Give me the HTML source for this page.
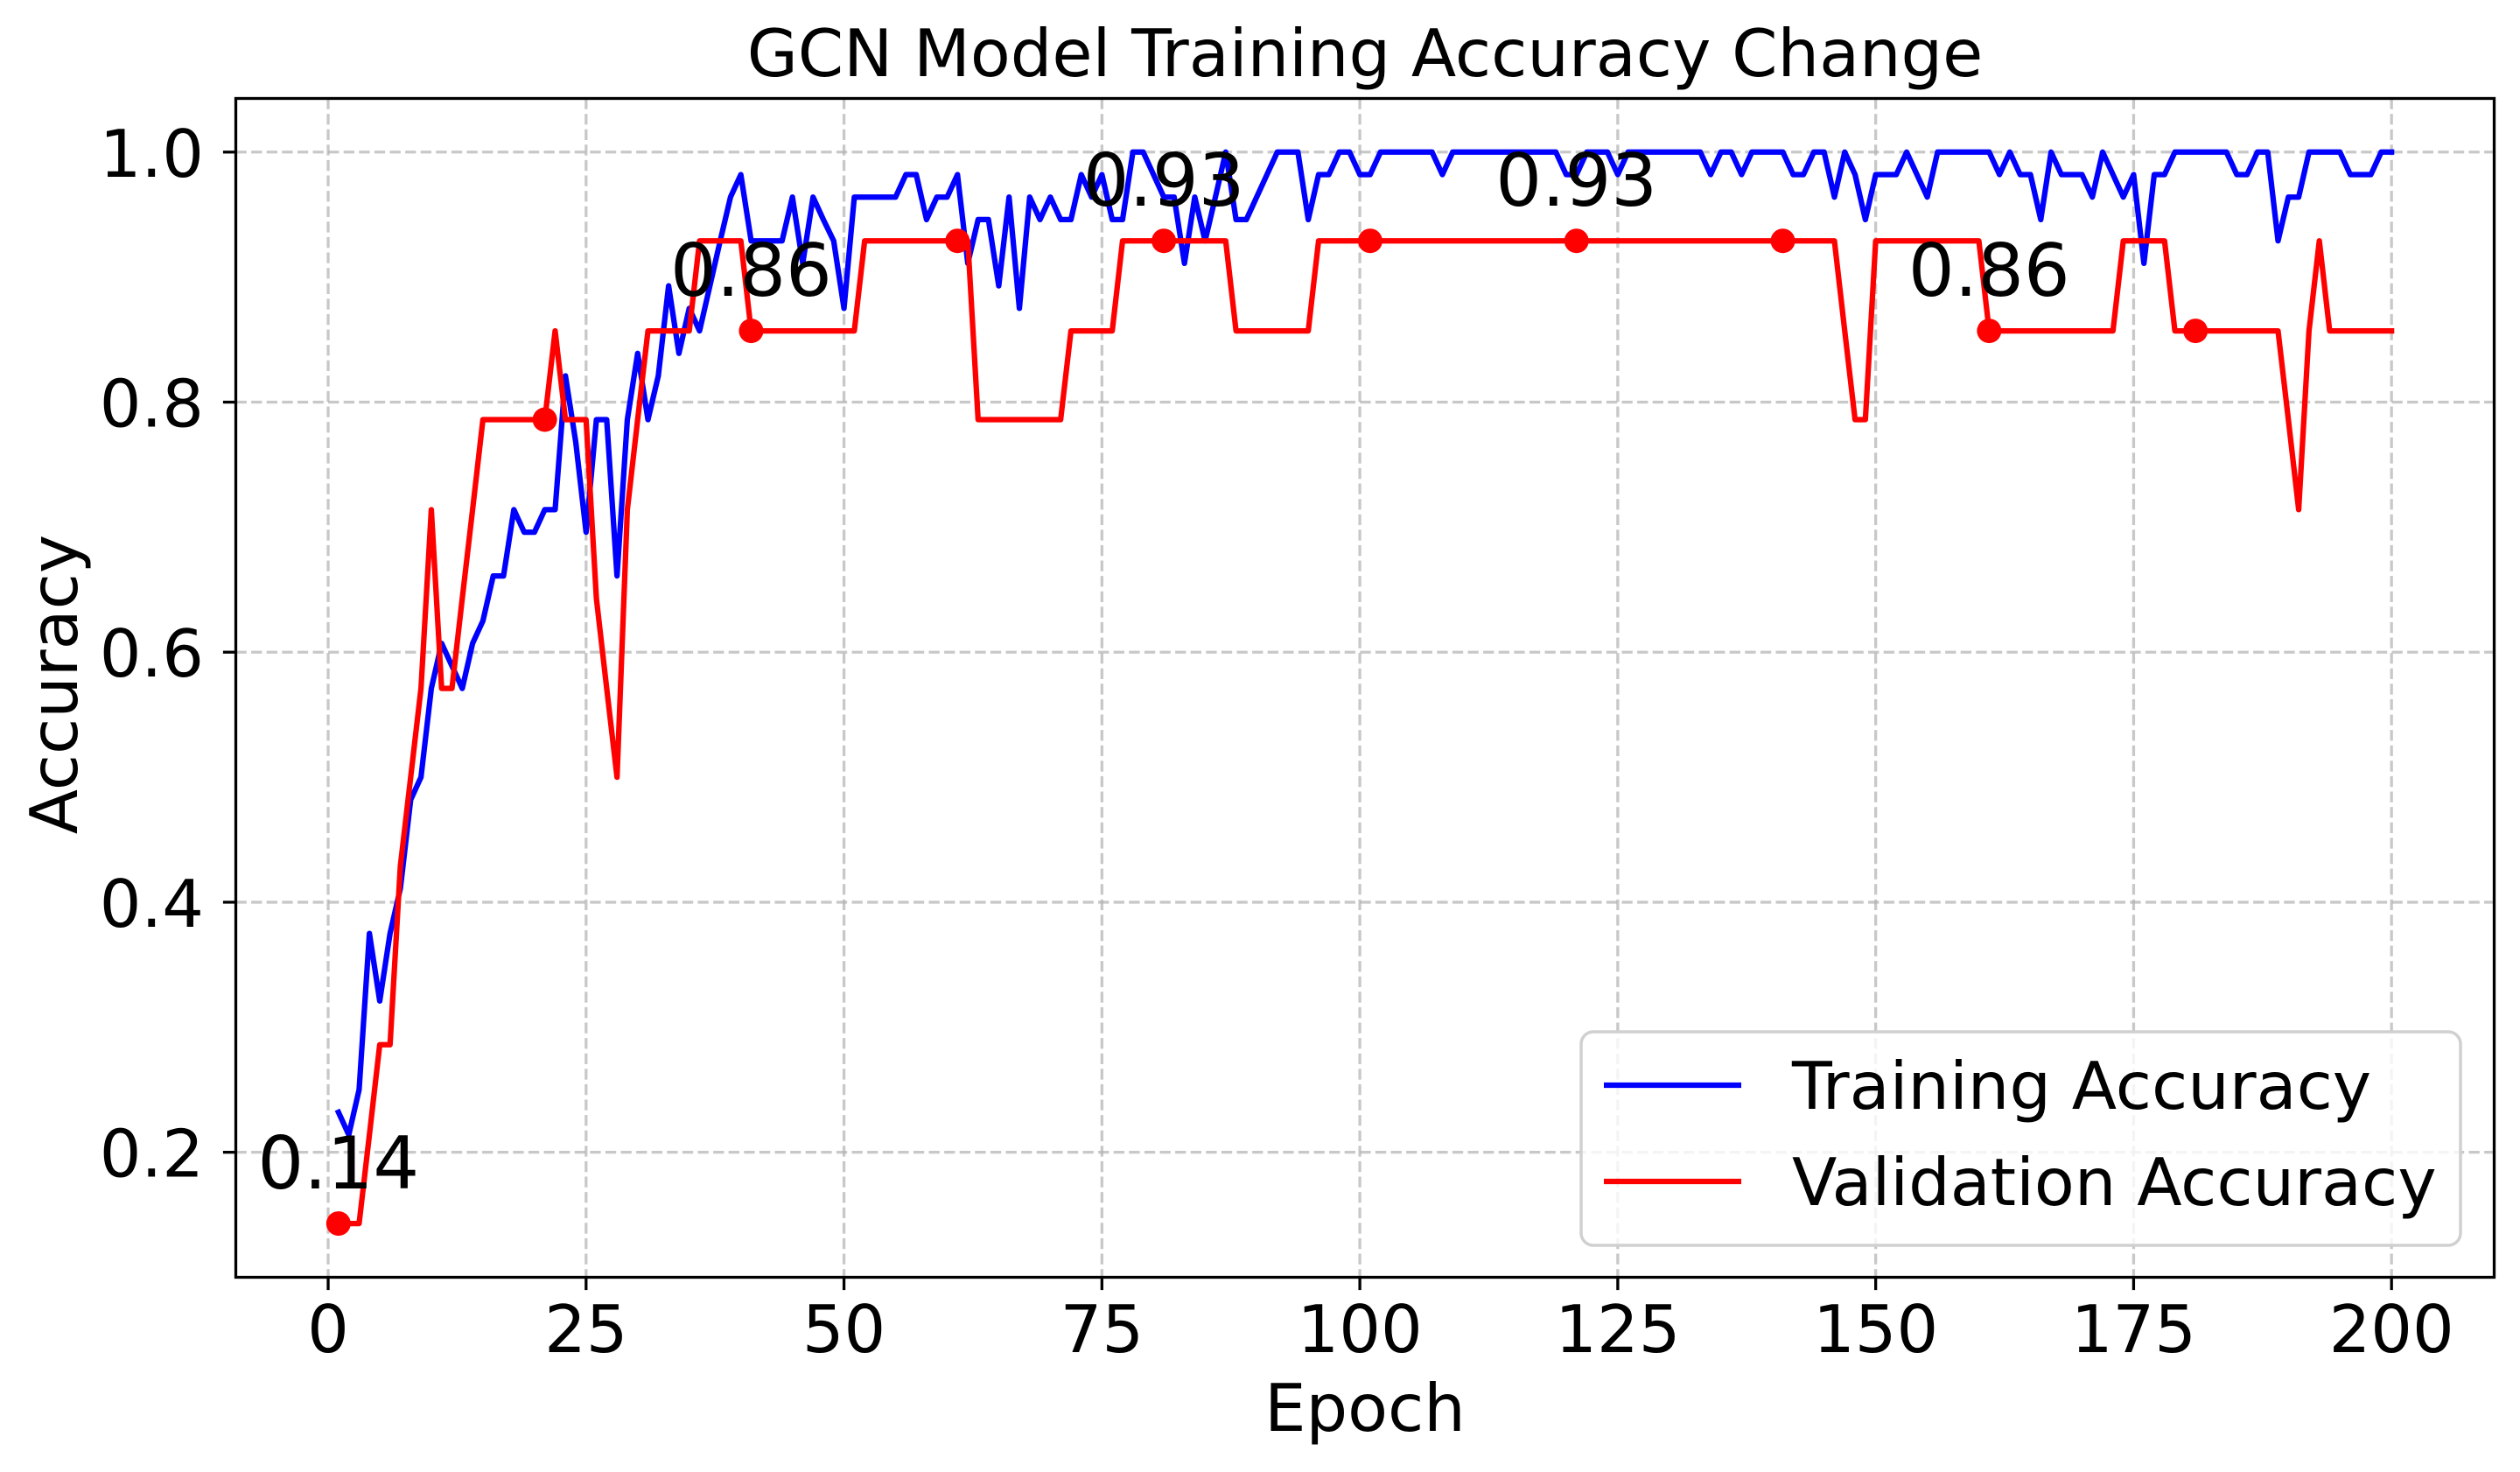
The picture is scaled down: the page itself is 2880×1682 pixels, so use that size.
<!DOCTYPE html>
<html><head><meta charset="utf-8"><style>
html,body{margin:0;padding:0;background:#fff;}
svg{display:block;font-family:"DejaVu Sans","Liberation Sans",sans-serif;}
</style></head><body>
<svg id="chart" width="2880" height="1682" viewBox="0 0 2880 1682" xmlns="http://www.w3.org/2000/svg">
<rect width="2880" height="1682" fill="#fff"/>
<g id="grid"></g>
<g id="series"></g>
<g id="axes"></g>
<text x="1560" y="87" font-size="75" text-anchor="middle">GCN Model Training Accuracy Change</text>
<text x="1560" y="1635" font-size="75" text-anchor="middle">Epoch</text>
<text x="0" y="0" font-size="75" text-anchor="middle" transform="translate(88,782) rotate(-90)">Accuracy</text>
<g>
<rect x="1807" y="1179" width="1005" height="244" rx="14" fill="#fff" fill-opacity="0.8" stroke="#d0d0d0" stroke-width="3.5"/>
<line x1="1833" y1="1240" x2="1990" y2="1240" stroke="#0000ff" stroke-width="6.25"/>
<text x="2048" y="1267" font-size="75">Training Accuracy</text>
<line x1="1833" y1="1350" x2="1990" y2="1350" stroke="#ff0000" stroke-width="6.25"/>
<text x="2048" y="1377" font-size="75">Validation Accuracy</text>
</g>
</svg>
<script>
const trainAcc = [
.232,.214,.25,.375,.321,.375,.411,.482,.5,.571,
.607,.589,.571,.607,.625,.661,.661,.714,.696,.696,
.714,.714,.821,.768,.696,.786,.786,.661,.786,.839,
.786,.821,.893,.839,.875,.857,.893,.929,.964,.982,
.929,.929,.929,.929,.964,.911,.964,.946,.929,.875,
.964,.964,.964,.964,.964,.982,.982,.946,.964,.964,
.982,.911,.946,.946,.893,.964,.875,.964,.946,.964,
.946,.946,.982,.964,.982,.946,.946,1,1,.982,
.964,.964,.911,.964,.929,.964,1,.946,.946,.964,
.982,1,1,1,.946,.982,.982,1,1,.982,
.982,1,1,1,1,1,1,.982,1,1,
1,1,1,1,1,1,1,1,1,.982,
.982,1,1,1,.982,1,1,1,1,1,
1,1,1,.982,1,1,.982,1,1,1,
1,.982,.982,1,1,.964,1,.982,.946,.982,
.982,.982,1,.982,.964,1,1,1,1,1,
1,.982,1,.982,.982,.946,1,.982,.982,.982,
.964,1,.982,.964,.982,.911,.982,.982,1,1,
1,1,1,1,.982,.982,1,1,.929,.964,
.964,1,1,1,1,.982,.982,.982,1,1];
const valAcc = [
.143,.143,.143,.214,.286,.286,.429,.5,.571,.714,
.571,.571,.643,.714,.786,.786,.786,.786,.786,.786,
.786,.857,.786,.786,.786,.643,.571,.5,.714,.786,
.857,.857,.857,.857,.857,.929,.929,.929,.929,.929,
.857,.857,.857,.857,.857,.857,.857,.857,.857,.857,
.857,.929,.929,.929,.929,.929,.929,.929,.929,.929,
.929,.929,.786,.786,.786,.786,.786,.786,.786,.786,
.786,.857,.857,.857,.857,.857,.929,.929,.929,.929,
.929,.929,.929,.929,.929,.929,.929,.857,.857,.857,
.857,.857,.857,.857,.857,.929,.929,.929,.929,.929,
.929,.929,.929,.929,.929,.929,.929,.929,.929,.929,
.929,.929,.929,.929,.929,.929,.929,.929,.929,.929,
.929,.929,.929,.929,.929,.929,.929,.929,.929,.929,
.929,.929,.929,.929,.929,.929,.929,.929,.929,.929,
.929,.929,.929,.929,.929,.929,.857,.786,.786,.929,
.929,.929,.929,.929,.929,.929,.929,.929,.929,.929,
.857,.857,.857,.857,.857,.857,.857,.857,.857,.857,
.857,.857,.857,.929,.929,.929,.929,.929,.857,.857,
.857,.857,.857,.857,.857,.857,.857,.857,.857,.786,
.714,.857,.929,.857,.857,.857,.857,.857,.857,.857];
const xTicks = [0,25,50,75,100,125,150,175,200];
const yTicks = [0.2,0.4,0.6,0.8,1.0];
const markerEvery = 20;
const annotateEvery = 40;

const NS = "http://www.w3.org/2000/svg";
const L = 269.5, R = 2850.5, T = 112.5, B = 1459.5;
const xMin = -8.95, xMax = 209.95, yMin = 0.1, yMax = 1.0429;
const xs = v => L + (v - xMin) / (xMax - xMin) * (R - L);
const ys = v => B - (v - yMin) / (yMax - yMin) * (B - T);
function mk(tag, attrs, parent){const e=document.createElementNS(NS,tag);for(const k in attrs)e.setAttribute(k,attrs[k]);parent.appendChild(e);return e;}

const grid = document.getElementById('grid');
const axes = document.getElementById('axes');
const series = document.getElementById('series');

xTicks.forEach(t=>{
  const x = xs(t);
  const g = mk('line',{x1:x,y1:T,x2:x,y2:B,stroke:'#b0b0b0','stroke-opacity':0.7,'stroke-width':3.3,'stroke-dasharray':'12.3,5.3'},grid);
  
  
  const tk = mk('line',{x1:x,y1:B,x2:x,y2:B+14.6,stroke:'#000','stroke-width':3.3},axes);
  
  
  const lb = mk('text',{x:x,y:1545,'font-size':75,'text-anchor':'middle'},axes);
  lb.textContent = String(t);
  
  
});
yTicks.forEach(t=>{
  const y = ys(t);
  const g = mk('line',{x1:L,y1:y,x2:R,y2:y,stroke:'#b0b0b0','stroke-opacity':0.7,'stroke-width':3.3,'stroke-dasharray':'12.3,5.3'},grid);
  
  
  const tk = mk('line',{x1:L-14.6,y1:y,x2:L,y2:y,stroke:'#000','stroke-width':3.3},axes);
  
  
  const lb = mk('text',{x:233,y:y+28,'font-size':75,'text-anchor':'end'},axes);
  lb.textContent = t.toFixed(1);
  
  
});
const frame = mk('rect',{x:L,y:T,width:R-L,height:B-T,fill:'none',stroke:'#000','stroke-width':3.3},axes);



function pathFor(arr){return arr.map((v,i)=>(i?'L':'M')+xs(i+1).toFixed(2)+','+ys(v).toFixed(2)).join(' ');}
const tl = mk('path',{d:pathFor(trainAcc),fill:'none',stroke:'#0000ff','stroke-width':6.25,'stroke-linejoin':'round','stroke-linecap':'square'},series);


const vl = mk('path',{d:pathFor(valAcc),fill:'none',stroke:'#ff0000','stroke-width':6.25,'stroke-linejoin':'round','stroke-linecap':'square'},series);



for(let i=0;i<valAcc.length;i+=markerEvery){
  const cx = xs(i+1), cy = ys(valAcc[i]);
  const m = mk('circle',{cx:cx,cy:cy,r:14,fill:'#ff0000'},series);
  
  
  if(i % annotateEvery === 0){
    const a = mk('text',{x:cx,y:cy-40,'font-size':83,'text-anchor':'middle'},series);
    a.textContent = valAcc[i].toFixed(2);
    
    
  }
}
</script>
</body></html>
